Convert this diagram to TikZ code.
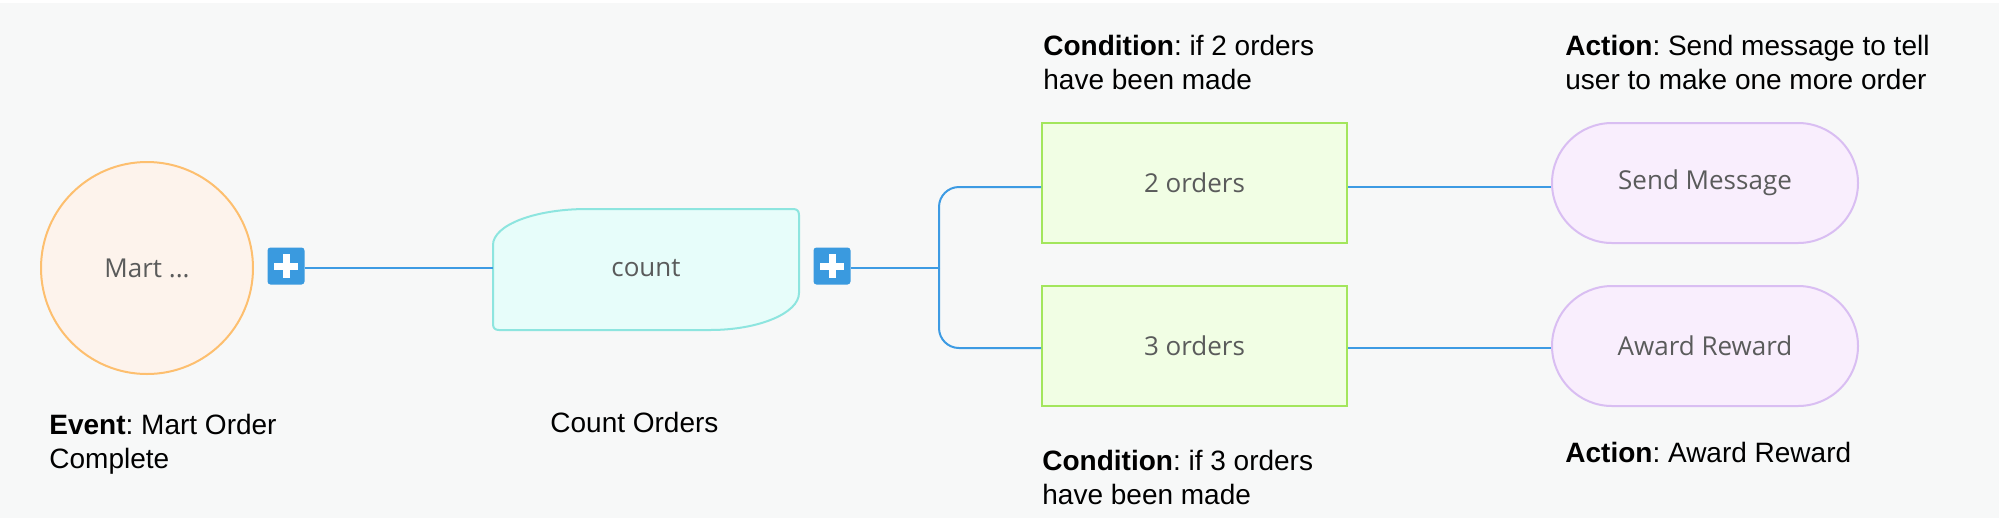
\documentclass[tikz,border=0pt]{standalone}
\usepackage{fontspec}
\setmainfont{Liberation Sans}
\newfontfamily\nodefont{Open Sans}
\usetikzlibrary{calc}
\frenchspacing
\definecolor{bggray}{HTML}{F7F8F8}
\definecolor{linkblue}{HTML}{3D9BE3}
\definecolor{plusblue}{HTML}{3A9ADF}
\definecolor{evstroke}{HTML}{FDBF6F}
\definecolor{evfill}{HTML}{FDF3EC}
\definecolor{cntstroke}{HTML}{8DE5DF}
\definecolor{cntfill}{HTML}{E7FDFA}
\definecolor{condstroke}{HTML}{A3E65C}
\definecolor{condfill}{HTML}{F1FEE4}
\definecolor{actstroke}{HTML}{D9BEF2}
\definecolor{actfill}{HTML}{F9EEFD}
\definecolor{nodegray}{HTML}{5A5B5B}
\tikzset{
  conn/.style={draw=linkblue, line width=1pt},
  plusbox/.style={fill=plusblue, rounded corners=1.5pt, minimum size=18.5pt, inner sep=0pt},
  plussign/.style={draw=white, line width=3.5pt},
  nodetext/.style={font=\nodefont\fontsize{13}{15}\selectfont, text=nodegray},
  evnode/.style={nodetext, circle, draw=evstroke, fill=evfill, line width=1pt, minimum size=106pt, inner sep=0pt},
  cntshape/.style={draw=cntstroke, fill=cntfill, line width=1pt},
  condbox/.style={nodetext, rectangle, draw=condstroke, fill=condfill, line width=1pt, minimum width=152.5pt, minimum height=60pt, inner sep=0pt},
  actbox/.style={nodetext, rectangle, rounded corners=30pt, draw=actstroke, fill=actfill, line width=1pt, minimum width=153pt, minimum height=60pt, inner sep=0pt},
  note/.style={font=\fontsize{14}{17}\selectfont\frenchspacing, align=left, anchor=north west, inner sep=0pt, text=black}
}
\begin{document}
\begin{tikzpicture}[x=0.5pt,y=-0.5pt]
\useasboundingbox (0,0) rectangle (1999,527);
\fill[white] (0,0) rectangle (1999,527);
\fill[bggray] (0,3) rectangle (1999,518);

% event
\node[evnode] (ev) at (147,268) {Mart ...};
\node[plusbox] (plus1) at (286,266) {};
\draw[plussign] ($(plus1)+(-12,0)$) -- ($(plus1)+(12,0)$);
\draw[plussign] ($(plus1)+(0,-12)$) -- ($(plus1)+(0,12)$);

% count
\draw[cntshape] (493,324) -- (493,245) .. controls (493,225) and (535,209) .. (587,209)
  -- (793,209) .. controls (797,209) and (799,211) .. (799,215)
  -- (799,293) .. controls (799,313) and (759,330) .. (710,330)
  -- (499,330) .. controls (495,330) and (493,328) .. (493,324) -- cycle;
\node[nodetext, minimum width=153pt, minimum height=60.5pt, inner sep=0pt] (count) at (646,268) {count};
\node[plusbox] (plus2) at (832,266) {};
\draw[plussign] ($(plus2)+(-12,0)$) -- ($(plus2)+(12,0)$);
\draw[plussign] ($(plus2)+(0,-12)$) -- ($(plus2)+(0,12)$);

% conditions
\node[condbox] (c2) at (1194.5,183) {2 orders};
\node[condbox] (c3) at (1194.5,346) {3 orders};

% actions
\node[actbox] (send) at (1705,183) {Send Message};
\node[actbox] (award) at (1705,346) {Award Reward};

% connectors
\coordinate (fork) at (939,268);
\draw[conn] (plus1.east |- count.west) -- (count.west);
\draw[conn] (plus2.east |- fork) -- (fork);
\draw[conn, rounded corners=10pt] (fork) |- ($(c2.west)+(0,4)$);
\draw[conn, rounded corners=10pt] (fork) |- ($(c3.west)+(0,2)$);
\draw[conn] ($(c2.east)+(0,4)$) -- ($(send.west)+(0,4)$);
\draw[conn] ($(c3.east)+(0,2)$) -- ($(award.west)+(0,2)$);

% notes
\node[note] (n1) at (1043,35) {\textbf{Condition}: if 2 orders\\have been made};
\node[note] (n2) at (1565,35) {\textbf{Action}: Send message to tell\\user to make one more order};
\node[note] (n3) at (49,414) {\textbf{Event}: Mart Order\\Complete};
\node[note] (n4) at (550,412) {Count Orders};
\node[note] (n5) at (1042,450) {\textbf{Condition}: if 3 orders\\have been made};
\node[note] (n6) at (1565,442) {\textbf{Action}: Award Reward};
\end{tikzpicture}
\end{document}
